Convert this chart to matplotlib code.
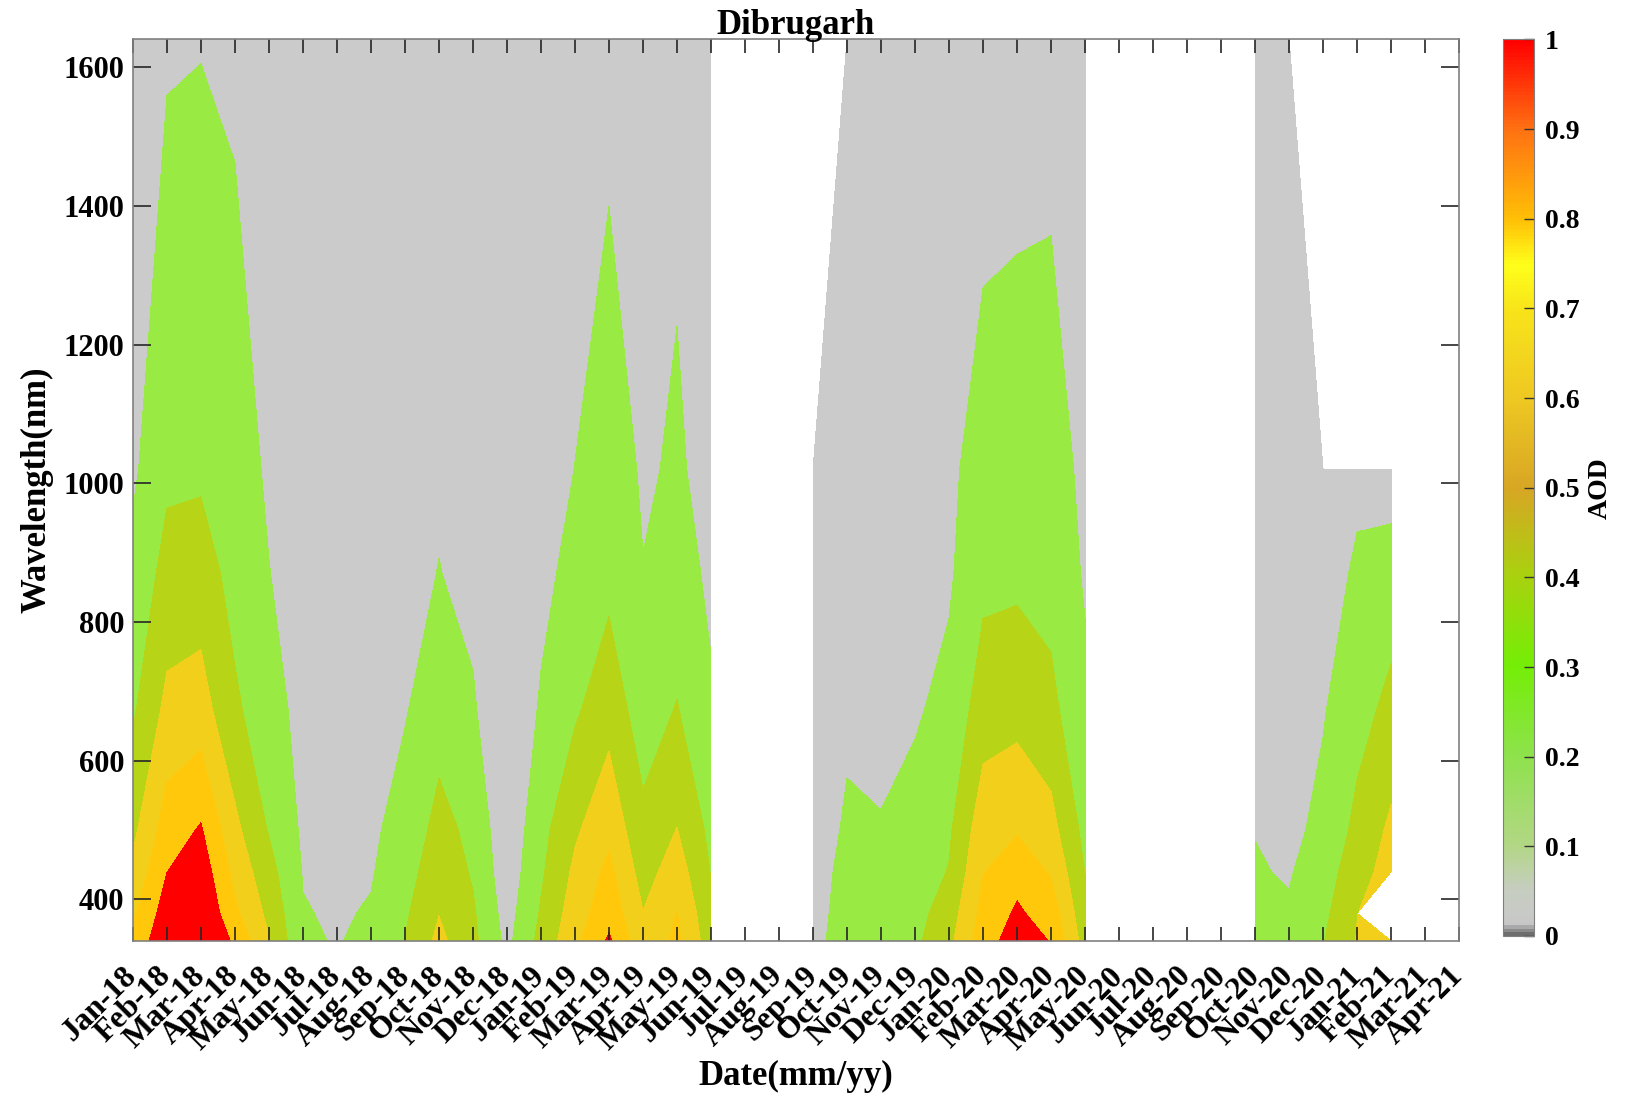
import numpy as np
import matplotlib
matplotlib.use('Agg')
import matplotlib.pyplot as plt
from matplotlib.colors import LinearSegmentedColormap, Normalize
import matplotlib.colorbar as mcolorbar

plt.rcParams['font.family'] = ['Liberation Serif', 'DejaVu Serif']
plt.rcParams['font.weight'] = 'bold'

nan = np.nan

# month axis
months = ['Jan-18', 'Feb-18', 'Mar-18', 'Apr-18', 'May-18', 'Jun-18', 'Jul-18', 'Aug-18',
          'Sep-18', 'Oct-18', 'Nov-18', 'Dec-18', 'Jan-19', 'Feb-19', 'Mar-19', 'Apr-19',
          'May-19', 'Jun-19', 'Jul-19', 'Aug-19', 'Sep-19', 'Oct-19', 'Nov-19', 'Dec-19',
          'Jan-20', 'Feb-20', 'Mar-20', 'Apr-20', 'May-20', 'Jun-20', 'Jul-20', 'Aug-20',
          'Sep-20', 'Oct-20', 'Nov-20', 'Dec-20', 'Jan-21', 'Feb-21', 'Mar-21', 'Apr-21']

wavelengths = [340, 380, 440, 500, 675, 870, 1020, 1640]

# monthly mean AOD per wavelength (nan = no data)
aod_340 = [0.85, 1.165, 1.25, 0.96, 0.61, 0.225, 0.19, 0.245, 0.405, 0.65, 0.45, 0.15, 0.46, 0.75,
           1.03, 0.66, 0.84, 0.49, nan, nan, 0.12, 0.33, 0.31, 0.36, 0.55, 0.90, 1.11, 0.99, 0.51,
           nan, nan, nan, nan, 0.27, 0.24, 0.39, 0.61, 0.82, nan, nan]
aod_380 = [0.77, 1.098, 1.20, 0.84, 0.55, 0.21, 0.18, 0.215, 0.37, 0.595, 0.425, 0.12, 0.42, 0.70,
           0.93, 0.605, 0.805, 0.45, nan, nan, 0.11, 0.30, 0.28, 0.33, 0.50, 0.86, 1.03, 0.91, 0.46,
           nan, nan, nan, nan, 0.245, 0.22, 0.35, 0.595, nan, nan, nan]
aod_440 = [0.645, 0.998, 1.12, 0.74, 0.47, 0.19, 0.17, 0.185, 0.32, 0.52, 0.38, 0.08, 0.37, 0.64,
           0.85, 0.52, 0.70, 0.39, nan, nan, 0.10, 0.27, 0.245, 0.29, 0.41, 0.79, 0.93, 0.78, 0.395,
           nan, nan, nan, nan, 0.214, 0.185, 0.30, 0.52, 0.68, nan, nan]
aod_500 = [0.554, 0.898, 1.02, 0.65, 0.385, 0.17, 0.155, 0.165, 0.28, 0.46, 0.355, 0.05, 0.34, 0.57,
           0.75, 0.45, 0.605, 0.35, nan, nan, 0.09, 0.23, 0.208, 0.26, 0.37, 0.72, 0.78, 0.67, 0.34,
           nan, nan, nan, nan, 0.195, 0.152, 0.25, 0.45, 0.64, nan, nan]
aod_675 = [0.371, 0.650, 0.686, 0.43, 0.29, 0.13, 0.12, 0.13, 0.185, 0.32, 0.22, 0.04, 0.22, 0.37,
           0.52, 0.30, 0.41, 0.22, nan, nan, 0.08, 0.16, 0.16, 0.18, 0.25, 0.50, 0.53, 0.45, 0.24,
           nan, nan, nan, nan, 0.15, 0.12, 0.185, 0.33, 0.45, nan, nan]
aod_870 = [0.254, 0.468, 0.489, 0.335, 0.205, 0.10, 0.09, 0.10, 0.14, 0.205, 0.15, 0.03, 0.15, 0.26,
           0.344, 0.205, 0.27, 0.17, nan, nan, 0.07, 0.12, 0.12, 0.13, 0.175, 0.35, 0.36, 0.33, 0.18,
           nan, nan, nan, nan, 0.11, 0.10, 0.14, 0.22, 0.30, nan, nan]
aod_1020 = [0.168, 0.36, 0.368, 0.30, 0.17, 0.09, 0.08, 0.085, 0.12, 0.17, 0.13, 0.03, 0.13, 0.202,
            0.29, 0.18, 0.22, 0.15, nan, nan, 0.06, 0.10, 0.10, 0.11, 0.15, 0.31, 0.32, 0.30, 0.15,
            nan, nan, nan, nan, 0.09, 0.09, 0.12, 0.17, 0.09, nan, nan]
aod_1640 = [0.10, 0.176, 0.19, 0.16, 0.10, 0.05, 0.04, 0.04, 0.06, 0.08, 0.07, 0.02, 0.07, 0.10,
            0.143, 0.09, 0.16, 0.07, nan, nan, nan, 0.05, 0.05, 0.06, 0.08, 0.05, 0.08, 0.116, 0.08,
            nan, nan, nan, nan, 0.05, 0.05, nan, nan, nan, nan, nan]

levels = [-1, 0.2, 0.4, 0.6, 0.8, 1.0, 5]
band_colors = ['#cbcbcb', '#99eb44', '#b8d416', '#f2cf1a', '#ffc80a', '#ff0000']

# continuous colormap for the colorbar
cbar_stops = [(0.0, '#6e6e6e'), (0.012, '#c8c8c8'), (0.05, '#c6cdc0'), (0.10, '#b2d784'),
              (0.20, '#8ee24c'), (0.30, '#74ee06'), (0.40, '#a8d20e'), (0.50, '#d8a624'),
              (0.60, '#eec822'), (0.70, '#f8e41a'), (0.75, '#ffff1a'), (0.80, '#ffc006'),
              (0.90, '#ff7212'), (1.0, '#ff0000')]
cmap = LinearSegmentedColormap.from_list('aod', cbar_stops)

Z = np.ma.masked_invalid(np.array([aod_340, aod_380, aod_440, aod_500,
                                   aod_675, aod_870, aod_1020, aod_1640]))
x = np.arange(len(months))

fig = plt.figure(figsize=(16.31, 10.96), dpi=100)
ax = fig.add_axes([0.0815, 0.1414, 0.8131, 0.8226])

ax.contourf(x, wavelengths, Z, levels=levels, colors=band_colors, corner_mask=True)

ax.set_xlim(0, len(months) - 1)
ax.set_ylim(340, 1640)
ax.set_xticks(x)
ax.set_xticklabels(months, rotation=45, ha='right', va='center', rotation_mode='anchor')
ax.set_yticks([400, 600, 800, 1000, 1200, 1400, 1600])
ax.tick_params(axis='x', direction='in', length=10, width=1.2, top=True, pad=22,
               labelsize=23, colors='#262626')
ax.tick_params(axis='y', direction='in', length=13, width=1.2, right=True, pad=6,
               labelsize=22, colors='#262626')
for lab in ax.get_xticklabels() + ax.get_yticklabels():
    lab.set_color('black')
    lab.set_fontweight('bold')
for sp in ax.spines.values():
    sp.set_color('#808080')
    sp.set_linewidth(1.2)

ax.set_title('Dibrugarh', fontsize=25, fontweight='bold', pad=4)
ax.set_xlabel('Date(mm/yy)', fontsize=25, fontweight='bold')
ax.xaxis.set_label_coords(0.5, -0.132)
ax.set_ylabel('Wavelength(nm)', fontsize=25, fontweight='bold')
ax.yaxis.set_label_coords(-0.060, 0.5)

# colorbar
cax = fig.add_axes([0.9215, 0.146, 0.019, 0.818])
cb = mcolorbar.ColorbarBase(cax, cmap=cmap, norm=Normalize(0, 1), orientation='vertical')
cb.set_ticks(np.round(np.arange(0, 1.01, 0.1), 1))
cb.set_ticklabels(['0', '0.1', '0.2', '0.3', '0.4', '0.5', '0.6', '0.7', '0.8', '0.9', '1'])
cb.ax.tick_params(direction='in', length=7, width=1, labelsize=20, colors='#333333', pad=8)
for lab in cb.ax.get_yticklabels():
    lab.set_color('black')
    lab.set_fontweight('bold')
cb.outline.set_edgecolor('#808080')
cb.set_label('AOD', fontsize=20, fontweight='bold', labelpad=6)

fig.savefig('out.png', dpi=100)
